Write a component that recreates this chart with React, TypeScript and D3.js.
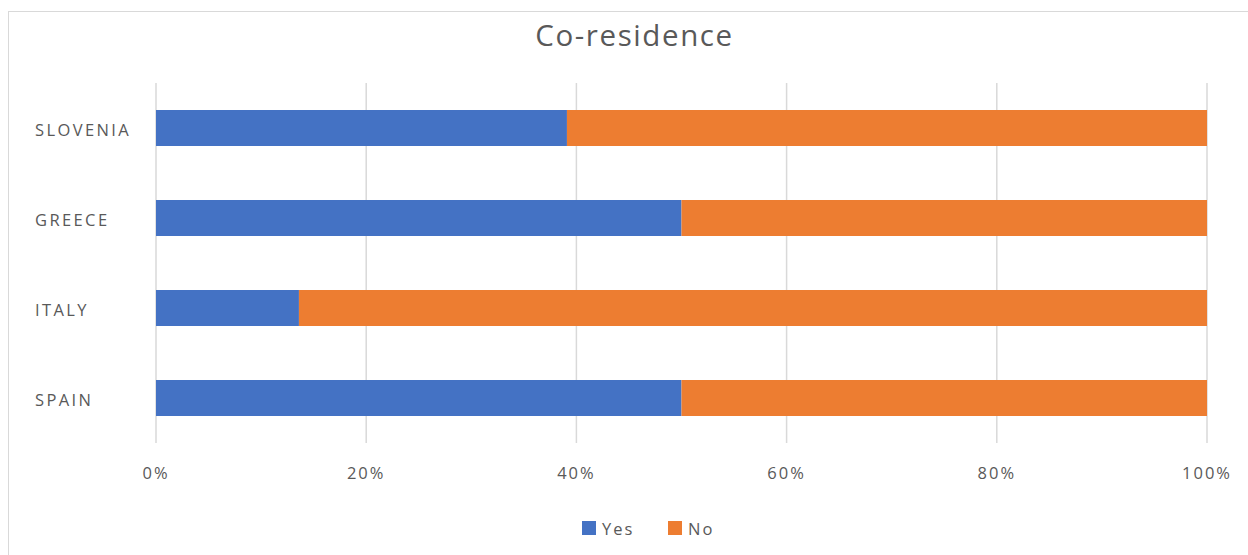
import React from "react";
import * as d3 from "d3";

const countries = ["SLOVENIA", "GREECE", "ITALY", "SPAIN"];
const yesValues = [39.1, 50.0, 13.6, 50.0];
const noValues = [60.9, 50.0, 86.4, 50.0];
const xTicks = [0, 20, 40, 60, 80, 100];
const seriesNames = ["Yes", "No"];
const seriesColors = ["#4472C4", "#ED7D31"];

const W = 1248;
const H = 555;
const FONT = "'Open Sans', 'DejaVu Sans', sans-serif";

export default function App() {
  const x = d3.scaleLinear().domain([0, 100]).range([156, 1207]);
  const y = d3.scaleBand<string>().domain(countries).range([83, 443]).paddingInner(0.6).paddingOuter(0.3);
  const stack = countries.map((c, i) => ({ c, yes: yesValues[i], no: noValues[i] }));
  const legendX = [580, 666];

  return (
    <svg width={W} height={H} style={{ position: "absolute", left: 0, top: 0, background: "#fff" }}>
      <rect x={8.5} y={11.5} width={W + 10} height={H + 10} fill="#fff" stroke="#D9D9D9" strokeWidth={1} />
      <text x={634.5} y={46} textAnchor="middle" fontFamily={FONT} fontSize={29.5} letterSpacing={1.6} fill="#595959">
        Co-residence
      </text>
      {xTicks.map((t) => (
        <line key={t} x1={x(t)} x2={x(t)} y1={83} y2={443} stroke="#D9D9D9" strokeWidth={1.5} />
      ))}
      {stack.map((d) => (
        <g key={d.c}>
          <rect x={x(0)} y={y(d.c)!} width={x(d.yes) - x(0)} height={y.bandwidth()} fill={seriesColors[0]} />
          <rect x={x(d.yes)} y={y(d.c)!} width={x(d.yes + d.no) - x(d.yes)} height={y.bandwidth()} fill={seriesColors[1]} />
          <text
            x={35}
            y={y(d.c)! + y.bandwidth() / 2 + 1}
            dominantBaseline="central"
            fontFamily={FONT}
            fontSize={16.5}
            letterSpacing={2.4}
            fill="#595959"
          >
            {d.c}
          </text>
        </g>
      ))}
      {xTicks.map((t) => (
        <text
          key={"l" + t}
          x={x(t)}
          y={472}
          textAnchor="middle"
          dominantBaseline="central"
          fontFamily={FONT}
          fontSize={16.5}
          letterSpacing={2}
          fill="#595959"
        >
          {t + "%"}
        </text>
      ))}
      {seriesNames.map((s, i) => (
        <g key={s}>
          <rect x={legendX[i] + 2} y={521} width={14} height={14} fill={seriesColors[i]} />
          <text
            x={legendX[i] + 22}
            y={528.5}
            dominantBaseline="central"
            fontFamily={FONT}
            fontSize={16.5}
            letterSpacing={2}
            fill="#595959"
          >
            {s}
          </text>
        </g>
      ))}
    </svg>
  );
}
